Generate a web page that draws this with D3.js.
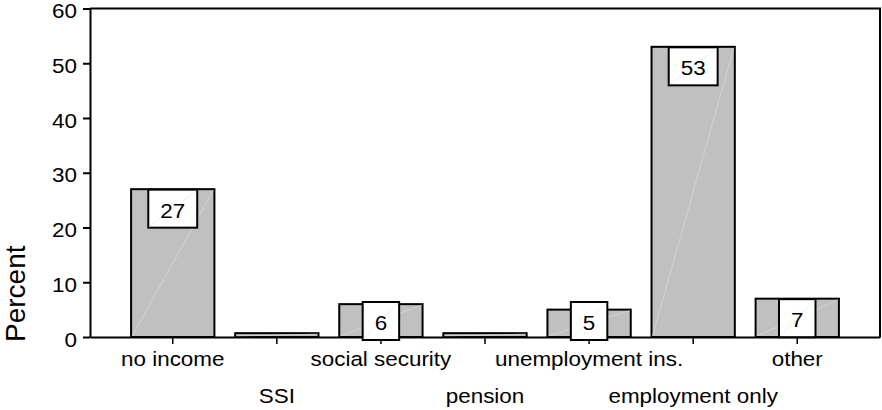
<!DOCTYPE html>
<html>
<head>
<meta charset="utf-8">
<script src="https://cdn.jsdelivr.net/npm/d3@7"></script>
<style>
  html, body { margin: 0; padding: 0; background: #fff; }
  svg { display: block; }
  text { font-family: "Liberation Sans", Arial, Helvetica, sans-serif; fill: #000; }
</style>
</head>
<body>
<svg id="chart" width="882" height="410"></svg>
<script>
// Income sources, share of respondents
const categories = ["no income", "SSI", "social security", "pension", "unemployment ins.", "employment only", "other"];
const percents   = [27, 0.7, 6, 0.7, 5, 53, 7];
const showLabel  = [true, false, true, false, true, true, true];
const yTicks     = [0, 10, 20, 30, 40, 50, 60];

const plotLeft = 90, plotRight = 880, plotTop = 8.5, plotBottom = 337;
const fontSize = 19.5, stretch = 1.15;

const svg = d3.select("#chart");

const x = d3.scaleBand()
  .domain(categories)
  .range([plotLeft, plotRight])
  .paddingInner(0.19)
  .paddingOuter(0.39);

const y = d3.scaleLinear().domain([0, 60]).range([plotBottom, plotTop]);

// bars
const bars = svg.append("g");
bars.selectAll("rect")
  .data(categories)
  .join("rect")
  .attr("x", d => x(d) + 0.5)
  .attr("y", (d, i) => y(percents[i]))
  .attr("width", x.bandwidth() - 1)
  .attr("height", (d, i) => y(0) - y(percents[i]))
  .attr("fill", "#c0c0c0")
  .attr("stroke", "#000")
  .attr("stroke-width", 2);

// faint diagonal seam across each bar
bars.selectAll("line")
  .data(categories)
  .join("line")
  .attr("x1", d => x(d) + 1.5)
  .attr("y1", y(0) - 1)
  .attr("x2", d => x(d) + x.bandwidth() - 1.5)
  .attr("y2", (d, i) => y(percents[i]) + 1)
  .attr("stroke", "#dadada")
  .attr("stroke-width", 0.7);

// frame: top and right edges
svg.append("path")
  .attr("d", `M${plotLeft},${plotTop}H${plotRight}V${plotBottom}`)
  .attr("fill", "none")
  .attr("stroke", "#000")
  .attr("stroke-width", 2);

// y axis
const yAxis = svg.append("g")
  .attr("transform", `translate(${plotLeft},0)`)
  .call(d3.axisLeft(y).tickValues(yTicks).tickSize(7).tickSizeOuter(0).tickPadding(6));
yAxis.attr("font-family", null).attr("font-size", null);
yAxis.selectAll("path, line").attr("stroke", "#000").attr("stroke-width", 2);
yAxis.selectAll("text")
  .attr("font-size", fontSize)
  .attr("x", -13 / stretch)
  .attr("dy", "0.47em")
  .attr("transform", `scale(${stretch},1)`);

// x axis with staggered labels
const xAxis = svg.append("g")
  .attr("transform", `translate(0,${plotBottom})`)
  .call(d3.axisBottom(x).tickSize(7).tickSizeOuter(0));
xAxis.attr("font-family", null).attr("font-size", null);
xAxis.select("path").attr("stroke", "#000").attr("stroke-width", 2);
xAxis.selectAll("line").attr("stroke", "#000").attr("stroke-width", 1.5);
xAxis.selectAll("text")
  .attr("font-size", fontSize)
  .attr("dy", null)
  .attr("y", (d, i) => i % 2 ? 66 : 29)
  .attr("transform", `scale(${stretch},1)`);

// y axis title
svg.append("text")
  .attr("transform", "translate(25,342) rotate(-90)")
  .attr("text-anchor", "start")
  .attr("font-size", 28)
  .text("Percent");

// value labels in boxes
const labelG = svg.append("g");
categories.forEach((c, i) => {
  if (!showLabel[i]) return;
  const v = percents[i];
  const cx = x(c) + x.bandwidth() / 2;
  const boxTop = Math.min(y(v) + 0.5, y(0) - 35);
  const g = labelG.append("g");
  const t = g.append("text")
    .attr("transform", `translate(${cx},${boxTop + 28}) scale(${stretch},1)`)
    .attr("text-anchor", "middle")
    .attr("font-size", fontSize)
    .text(d3.format(".0f")(v));
  const tw = t.node().getComputedTextLength() * stretch;
  const bw = tw + 24, bh = 38;
  g.insert("rect", "text")
    .attr("x", cx - bw / 2)
    .attr("y", boxTop)
    .attr("width", bw)
    .attr("height", bh)
    .attr("fill", "#fff")
    .attr("stroke", "#000")
    .attr("stroke-width", 2);
  g.insert("line", "text")
    .attr("x1", cx - bw / 2 + 1).attr("y1", boxTop + bh - 1)
    .attr("x2", cx + bw / 2 - 1).attr("y2", boxTop + 1)
    .attr("stroke", "#e6e6e6")
    .attr("stroke-width", 0.7);
});
</script>
</body>
</html>
